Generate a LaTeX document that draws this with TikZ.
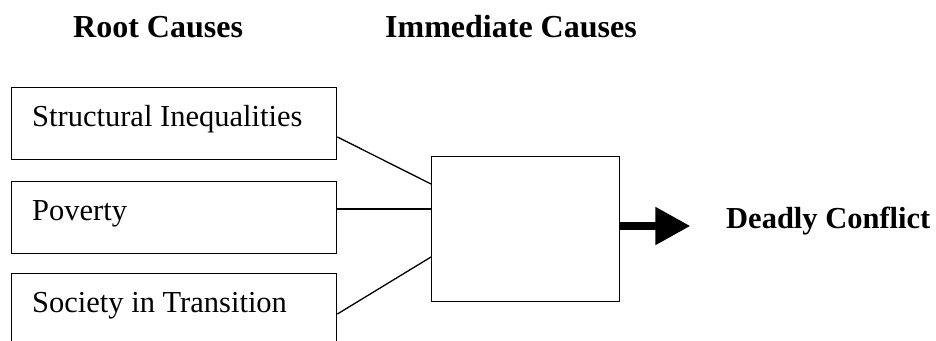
\documentclass[tikz,border=0pt]{standalone}
\usepackage{fontspec}
\setmainfont{Liberation Serif}
\usetikzlibrary{arrows.meta}
\begin{document}
\begin{tikzpicture}[x=1pt,y=-1pt,
  rootbox/.style={draw,line width=1.4pt,minimum width=325pt,minimum height=72pt,inner sep=0pt,anchor=north west},
  midbox/.style={draw,line width=1.4pt,minimum width=188pt,minimum height=145pt,inner sep=0pt,anchor=north west},
  boxtext/.style={anchor=base west,inner sep=0pt,font=\fontsize{30.5}{36}\selectfont},
  headtext/.style={anchor=base west,inner sep=0pt,font=\fontsize{32}{38}\selectfont\bfseries},
  link/.style={line width=1.3pt}]
\useasboundingbox (0,0) rectangle (936,340);
\clip (0,0) rectangle (936,340);
\node[headtext] (h1) at (73,37) {Root Causes};
\node[headtext] (h2) at (385,37) {Immediate Causes};
\node[rootbox] (s1) at (11,87) {};
\node[rootbox] (s2) at (11,181) {};
\node[rootbox] (s3) at (11,273) {};
\node[boxtext] (t1) at ([shift={(21,39)}]s1.north west) {Structural Inequalities};
\node[boxtext] (t2) at ([shift={(21,39)}]s2.north west) {Poverty};
\node[boxtext] (t3) at ([shift={(21,39)}]s3.north west) {Society in Transition};
\node[midbox] (c) at (431,156) {};
\coordinate (e1) at ([shift={(0,50)}]s1.north east);
\coordinate (e2) at ([shift={(0,28)}]s2.north east);
\coordinate (e3) at ([shift={(0,41)}]s3.north east);
\coordinate (c1) at ([shift={(0,28)}]c.north west);
\coordinate (c2) at ([shift={(0,53)}]c.north west);
\coordinate (c3) at ([shift={(0,101)}]c.north west);
\draw[link] (e1) -- (c1);
\draw[link] (e2) -- (c2);
\draw[link] (e3) -- (c3);
\coordinate (a0) at ([shift={(0,70)}]c.north east);
\coordinate (a1) at ([shift={(70,70)}]c.north east);
\draw[line width=8pt,-{Triangle[length=35pt,width=36pt]}] (a0) -- (a1);
\node[anchor=base west,inner sep=0pt,font=\fontsize{30.5}{36}\selectfont\bfseries] (dc) at (726,228) {Deadly Conflict};
\end{tikzpicture}
\end{document}
